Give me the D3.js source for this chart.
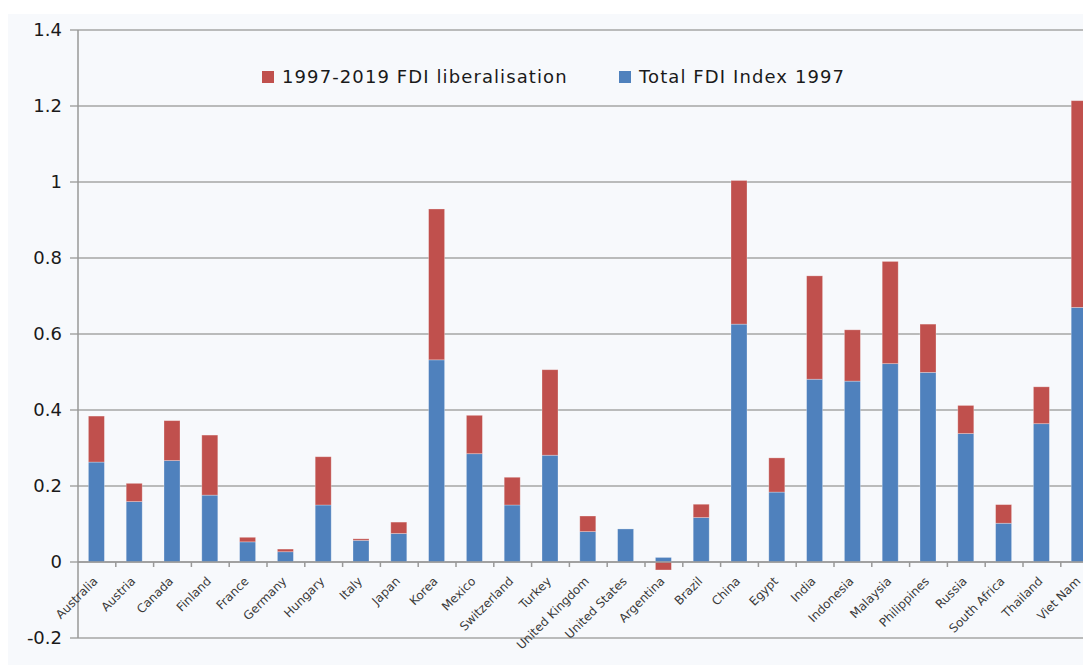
<!DOCTYPE html>
<html>
<head>
<meta charset="utf-8">
<script src="https://cdn.jsdelivr.net/npm/d3@7.9.0/dist/d3.min.js"></script>
<style>
  body { margin: 0; background: #fff; }
  svg { display: block; font-family: "DejaVu Sans", sans-serif; }
</style>
</head>
<body>
<svg id="chart" width="1083" height="665"></svg>
<script>
// data
const countries = ['Australia', 'Austria', 'Canada', 'Finland', 'France', 'Germany', 'Hungary', 'Italy', 'Japan',
  'Korea', 'Mexico', 'Switzerland', 'Turkey', 'United Kingdom', 'United States', 'Argentina', 'Brazil', 'China',
  'Egypt', 'India', 'Indonesia', 'Malaysia', 'Philippines', 'Russia', 'South Africa', 'Thailand', 'Viet Nam'];
const index1997 = [0.263, 0.159, 0.267, 0.176, 0.053, 0.027, 0.150, 0.057, 0.075,
  0.532, 0.285, 0.150, 0.281, 0.080, 0.087, 0.012, 0.117, 0.626,
  0.184, 0.481, 0.476, 0.522, 0.499, 0.338, 0.102, 0.364, 0.670];
const liberalisation = [0.121, 0.048, 0.105, 0.158, 0.012, 0.007, 0.127, 0.004, 0.030,
  0.397, 0.101, 0.073, 0.225, 0.041, 0.000, -0.021, 0.035, 0.378,
  0.090, 0.272, 0.135, 0.269, 0.127, 0.074, 0.049, 0.097, 0.544];
const seriesNames = ['1997-2019 FDI liberalisation', 'Total FDI Index 1997'];
const yTicks = [-0.2, 0, 0.2, 0.4, 0.6, 0.8, 1, 1.2, 1.4];

const colors = { index: '#4f81bd', lib: '#c0504d' };

const svg = d3.select('#chart');

// light panel behind the plot
svg.append('rect')
  .attr('x', 8).attr('y', 14)
  .attr('width', 1075).attr('height', 651)
  .attr('fill', '#f7f9fc');

const left = 78;
const step = 37.8;
const x = d3.scaleBand()
  .domain(countries)
  .range([left, left + step * countries.length]);
const y = d3.scaleLinear().domain([-0.2, 1.4]).range([638, 30]);

// gridlines
svg.append('g')
  .selectAll('line')
  .data(yTicks)
  .join('line')
  .attr('x1', left - 8).attr('x2', 1083)
  .attr('y1', d => y(d)).attr('y2', d => y(d))
  .attr('stroke', '#a6a6a6')
  .attr('stroke-width', 1.5);

// y axis line
svg.append('line')
  .attr('x1', left).attr('x2', left)
  .attr('y1', y(1.4)).attr('y2', y(-0.2))
  .attr('stroke', '#999')
  .attr('stroke-width', 1.5);

// y tick labels
svg.append('g')
  .selectAll('text')
  .data(yTicks)
  .join('text')
  .attr('x', 62)
  .attr('y', d => y(d))
  .attr('dy', '0.35em')
  .attr('text-anchor', 'end')
  .attr('font-size', 18)
  .attr('fill', '#1a1a1a')
  .text(d => String(+d.toFixed(1)));

// stacked bars
const rows = countries.map((c, i) => ({ country: c, index: index1997[i], lib: liberalisation[i] }));
const stacked = d3.stack()
  .keys(['index', 'lib'])
  .offset(d3.stackOffsetDiverging)(rows);

const barW = 16;
svg.append('g')
  .selectAll('g')
  .data(stacked)
  .join('g')
  .attr('fill', d => colors[d.key])
  .selectAll('rect')
  .data(d => d)
  .join('rect')
  .attr('x', d => x(d.data.country) + x.bandwidth() / 2 - barW / 2 - 0.5)
  .attr('y', d => y(Math.max(d[0], d[1])))
  .attr('width', barW)
  .attr('height', d => Math.abs(y(d[0]) - y(d[1])))
  .attr('stroke', 'rgba(255,255,255,0.35)')
  .attr('stroke-width', 0.8);

// x axis at zero
svg.append('line')
  .attr('x1', left).attr('x2', 1083)
  .attr('y1', y(0)).attr('y2', y(0))
  .attr('stroke', '#999')
  .attr('stroke-width', 1.5);

svg.append('g')
  .selectAll('line')
  .data(countries.slice(1))
  .join('line')
  .attr('x1', d => x(d)).attr('x2', d => x(d))
  .attr('y1', y(0)).attr('y2', y(0) + 5)
  .attr('stroke', '#999')
  .attr('stroke-width', 1.5);

// rotated country labels
svg.append('g')
  .selectAll('text')
  .data(countries)
  .join('text')
  .attr('transform', d => `translate(${x(d) + x.bandwidth() / 2 - 1.5},${y(0) + 17}) rotate(-45)`)
  .attr('text-anchor', 'end')
  .attr('dy', '0.35em')
  .attr('font-size', 12)
  .attr('fill', '#3a3a3a')
  .text(d => d);

// legend
const legend = [
  { name: seriesNames[0], color: colors.lib, x: 262 },
  { name: seriesNames[1], color: colors.index, x: 619 }
];
const lg = svg.append('g')
  .selectAll('g')
  .data(legend)
  .join('g')
  .attr('transform', d => `translate(${d.x},0)`);
lg.append('rect')
  .attr('x', 0).attr('y', 71)
  .attr('width', 12).attr('height', 12)
  .attr('fill', d => d.color);
lg.append('text')
  .attr('x', 20).attr('y', 83)
  .attr('font-size', 18)
  .attr('letter-spacing', 1.1)
  .attr('fill', '#1a1a1a')
  .text(d => d.name);
</script>
</body>
</html>
